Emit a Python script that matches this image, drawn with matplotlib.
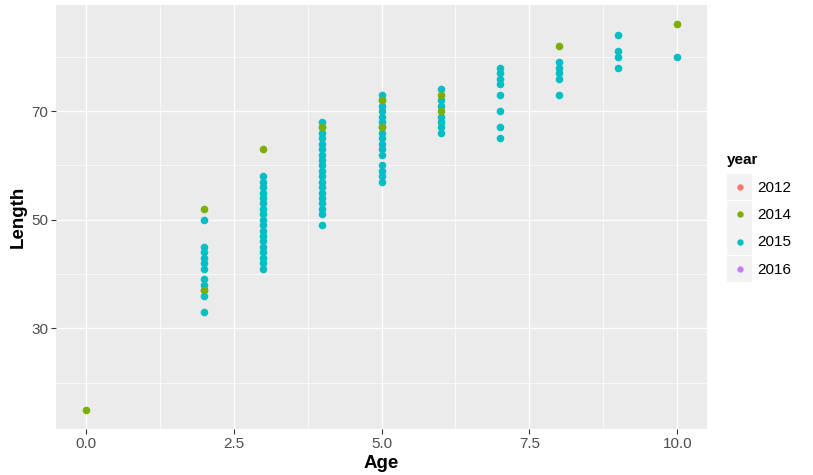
import matplotlib
matplotlib.use("Agg")
import matplotlib.pyplot as plt
from matplotlib.patches import Rectangle
from matplotlib.lines import Line2D
from matplotlib.legend_handler import HandlerBase

plt.rcParams['font.family'] = ['Liberation Sans', 'DejaVu Sans']

years = ["2012", "2014", "2015", "2016"]
colors = ["#F8766D", "#7CAE00", "#00BFC4", "#C77CFF"]

age_2012 = []
len_2012 = []

age_2014 = [0, 2, 2, 3, 4, 5, 5, 6, 6, 8, 10]
len_2014 = [15, 52, 37, 63, 67, 72, 67, 73, 70, 82, 86]

age_2015 = [2, 2, 2, 2, 2, 2, 2, 2, 2, 2, 2,
            3, 3, 3, 3, 3, 3, 3, 3, 3, 3, 3, 3, 3, 3, 3, 3, 3, 3,
            4, 4, 4, 4, 4, 4, 4, 4, 4, 4, 4, 4, 4, 4, 4, 4, 4, 4, 4,
            5, 5, 5, 5, 5, 5, 5, 5, 5, 5, 5, 5, 5, 5, 5, 5,
            6, 6, 6, 6, 6, 6, 6,
            7, 7, 7, 7, 7, 7, 7, 7,
            8, 8, 8, 8, 8,
            9, 9, 9, 9,
            10]
len_2015 = [50, 45, 44, 43, 42, 41, 39, 38, 37, 36, 33,
            41, 42, 43, 44, 45, 46, 47, 48, 49, 50, 51, 52, 53, 54, 55, 56, 57, 58,
            49, 51, 52, 53, 54, 55, 56, 57, 58, 59, 60, 61, 62, 63, 64, 65, 66, 67, 68,
            73, 71, 70, 69, 68, 66, 65, 64, 63, 62, 60, 59, 58, 57, 72, 67,
            74, 72, 71, 69, 68, 67, 66,
            78, 77, 76, 75, 73, 70, 67, 65,
            79, 78, 77, 76, 73,
            84, 81, 80, 78,
            80]

age_2016 = []
len_2016 = []

x_ticks = [0.0, 2.5, 5.0, 7.5, 10.0]
x_ticklabels = ["0.0", "2.5", "5.0", "7.5", "10.0"]
y_ticks = [30, 50, 70]
y_ticklabels = ["30", "50", "70"]

W, H = 813, 475
fig = plt.figure(figsize=(W / 100, H / 100), dpi=100)
fig.patch.set_facecolor("white")
ax = fig.add_axes([56 / W, 1 - 429 / H, (707 - 56) / W, (429 - 5) / H])
ax.set_facecolor("#EBEBEB")
for s in ax.spines.values():
    s.set_visible(False)

ax.set_xlim(-0.5, 10.5)
ax.set_ylim(11.45, 89.55)
ax.set_xticks(x_ticks)
ax.set_xticklabels(x_ticklabels)
ax.set_yticks(y_ticks)
ax.set_yticklabels(y_ticklabels)
ax.set_xticks([1.25, 3.75, 6.25, 8.75], minor=True)
ax.set_yticks([20, 40, 60, 80], minor=True)
ax.grid(which="major", color="white", linewidth=1.0)
ax.grid(which="minor", color="white", linewidth=0.5)
ax.set_axisbelow(True)
ax.tick_params(which="major", length=3.5, width=0.8, color="#333333",
               labelcolor="#4D4D4D", labelsize=11, pad=2)
ax.tick_params(which="minor", length=0)

series = [(age_2012, len_2012), (age_2015, len_2015), (age_2014, len_2014), (age_2016, len_2016)]
order = [0, 2, 1, 3]
for (a, l), idx in zip(series, order):
    ax.scatter(a, l, s=30, color=colors[idx], linewidths=0, zorder=3)

ax.set_xlabel("Age", fontsize=13.5, fontweight="bold", labelpad=3.5)
ax.set_ylabel("Length", fontsize=13.5, fontweight="bold", labelpad=3)


class KeyHandler(HandlerBase):
    def create_artists(self, legend, orig_handle, xdescent, ydescent,
                       width, height, fontsize, trans):
        rect = Rectangle((-xdescent, -ydescent), width, height,
                         facecolor="#F2F2F2", edgecolor="none", transform=trans)
        dot = Line2D([-xdescent + width / 2], [-ydescent + height / 2],
                     marker="o", markersize=4.6, linestyle="none",
                     markerfacecolor=orig_handle.get_color(),
                     markeredgewidth=0, transform=trans)
        return [rect, dot]


handles = [Line2D([], [], color=c) for c in colors]
leg = fig.legend(handles, years, handler_map={Line2D: KeyHandler()},
                 loc="upper left", bbox_to_anchor=(727 / W, 1 - 153 / H),
                 frameon=False, fontsize=11, title="year",
                 title_fontproperties={"weight": "bold", "size": 11},
                 handlelength=1.64, handleheight=2.29, handletextpad=0.33,
                 labelspacing=0.05, borderpad=0, borderaxespad=0,
                 alignment="left")
leg._legend_box.sep = 5

fig.savefig("out.png", dpi=100)
